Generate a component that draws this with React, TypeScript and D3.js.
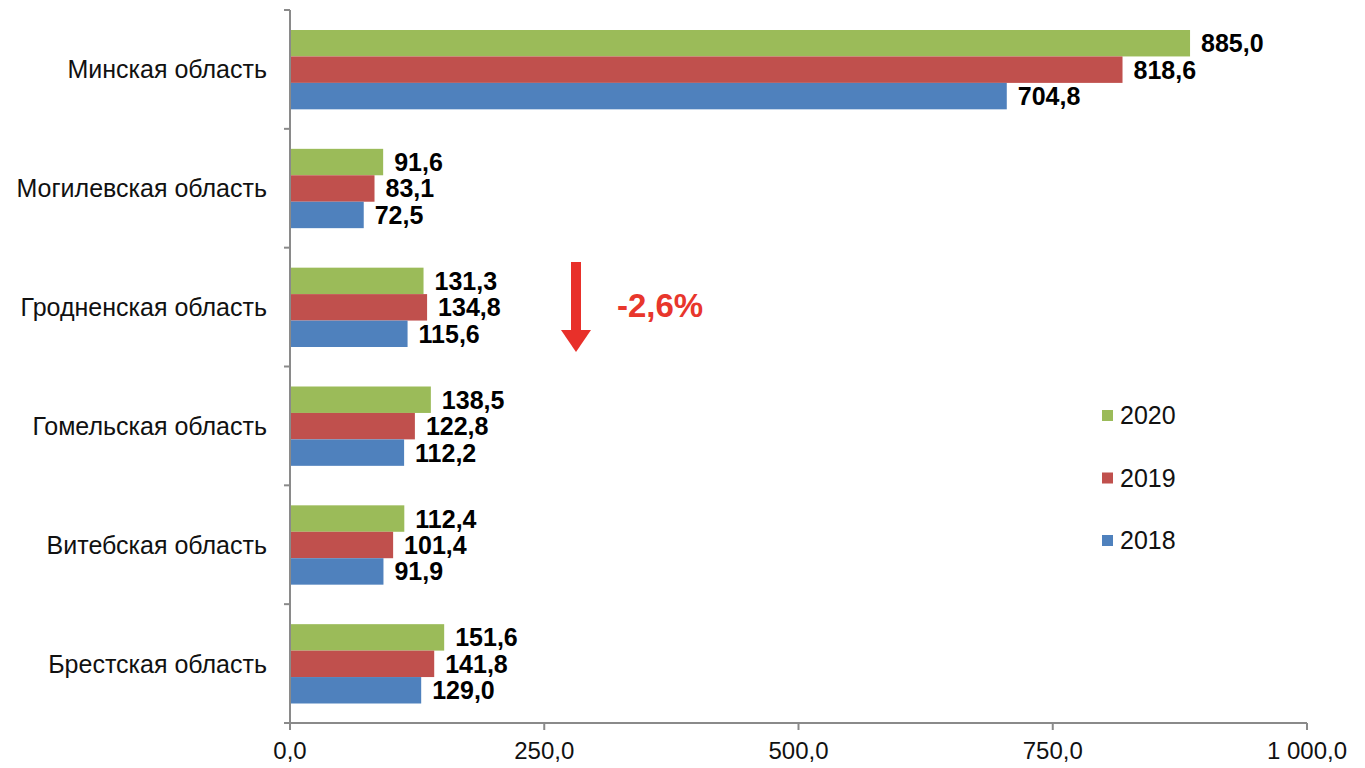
import React from "react";
import * as d3 from "d3";

const categories = [
  "Минская область",
  "Могилевская область",
  "Гродненская область",
  "Гомельская область",
  "Витебская область",
  "Брестская область",
];
const seriesNames = ["2020", "2019", "2018"];
const values2020 = [885.0, 91.6, 131.3, 138.5, 112.4, 151.6];
const values2019 = [818.6, 83.1, 134.8, 122.8, 101.4, 141.8];
const values2018 = [704.8, 72.5, 115.6, 112.2, 91.9, 129.0];
const xTicks = [0, 250, 500, 750, 1000];
const changeLabel = "-2,6%";

const colors: Record<string, string> = { "2020": "#9BBB59", "2019": "#C0504D", "2018": "#4F81BD" };
const FONT = "'Liberation Sans', Arial, sans-serif";

const fmt = (v: number) => {
  const s = v.toFixed(1).replace(".", ",");
  const [i, f] = s.split(",");
  return i.replace(/\B(?=(\d{3})+(?!\d))/g, " ") + "," + f;
};

export default function App() {
  const W = 1365, H = 768;
  const left = 290, right = 1307, top = 10, bottom = 723;

  const series = [values2020, values2019, values2018];

  const x = d3.scaleLinear().domain([0, 1000]).range([left, right]);
  const y = d3.scaleBand().domain(categories).range([top, bottom]).padding(0);
  const bw = y.bandwidth();
  const inner = d3.scaleBand().domain(seriesNames).range([20, bw - 19.5]).padding(0);

  const boundaries = d3.range(categories.length + 1).map(i => top + i * bw);

  return (
    <svg width={W} height={H} style={{ position: "absolute", left: 0, top: 0, background: "#fff" }}
      fontFamily={FONT}>
      {/* bars */}
      {categories.map((c, ci) => (
        <g key={c} transform={`translate(0,${y(c)})`}>
          {seriesNames.map((s, si) => {
            const v = series[si][ci];
            const yy = inner(s)!;
            return (
              <g key={s}>
                <rect x={x(0)} y={yy} width={x(v) - x(0)} height={inner.bandwidth()} fill={colors[s]} />
                <text x={x(v) + 11} y={yy + inner.bandwidth() / 2} dy="0.36em" fontSize={25}
                  fontWeight="bold" fill="#000">{fmt(v)}</text>
              </g>
            );
          })}
          <text x={left - 23} y={bw / 2} dy="0.36em" textAnchor="end" fontSize={25} fill="#111">{c}</text>
        </g>
      ))}

      {/* y axis */}
      <line x1={left} x2={left} y1={top} y2={bottom} stroke="#8a8a8a" strokeWidth={2} />
      {boundaries.map((b, i) => (
        <line key={i} x1={left - 6} x2={left} y1={b} y2={b} stroke="#8a8a8a" strokeWidth={2} />
      ))}

      {/* x axis */}
      <line x1={left} x2={right} y1={bottom} y2={bottom} stroke="#8a8a8a" strokeWidth={2} />
      {xTicks.map(t => (
        <g key={t}>
          <line x1={x(t)} x2={x(t)} y1={bottom} y2={bottom + 7} stroke="#8a8a8a" strokeWidth={2} />
          <text x={x(t)} y={bottom + 27} dy="0.36em" textAnchor="middle" fontSize={24} fill="#111">{fmt(t)}</text>
        </g>
      ))}

      {/* change arrow */}
      <g>
        <rect x={571} y={262} width={10} height={70} fill="#E8302A" />
        <polygon points="561,330 591,330 576,352" fill="#E8302A" />
        <text x={617} y={305} dy="0.36em" fontSize={33} fontWeight="bold" fill="#E8362C">{changeLabel}</text>
      </g>

      {/* legend */}
      {seriesNames.map((s, i) => {
        const ly = 415 + i * 62.5;
        return (
          <g key={s}>
            <rect x={1102} y={ly - 5} width={11} height={11} fill={colors[s]} />
            <text x={1120} y={ly} dy="0.36em" fontSize={25} fill="#111">{s}</text>
          </g>
        );
      })}
    </svg>
  );
}
